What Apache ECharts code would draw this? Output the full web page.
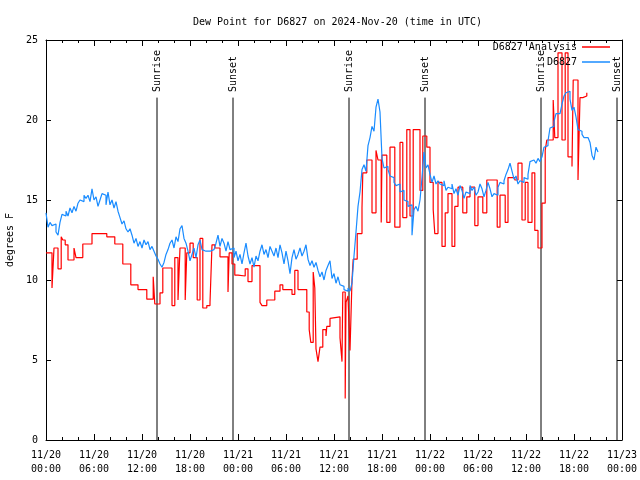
<!DOCTYPE html>
<html>
<head>
<meta charset="utf-8">
<script src="https://cdn.jsdelivr.net/npm/echarts@6/dist/echarts.min.js"></script>
<style>html,body{margin:0;padding:0;background:#fff;}#c{width:640px;height:480px;}</style>
</head>
<body>
<div id="c"></div>
<script>
// ---- data ----
var titleText = 'Dew Point for D6827 on 2024-Nov-20 (time in UTC)';
var seriesNames = ['D6827 Analysis', 'D6827'];
// Analysis (hours since 2024-11-20 00:00 UTC, value held until next time)
var analysisHours = [0.0,0.75,1.0,1.5,1.9,2.1,2.4,2.75,3.5,3.75,4.6,5.75,7.6,8.6,9.6,10.6,11.5,12.6,13.4,13.6,14.25,14.6,15.75,16.1,16.5,16.75,17.4,17.6,18.0,18.4,18.9,19.25,19.6,20.1,20.5,20.75,21.1,21.75,22.75,22.9,23.25,23.6,24.0,24.9,25.25,25.75,26.75,27.0,27.6,28.6,29.25,29.6,30.75,31.1,31.5,32.6,32.9,33.1,33.4,33.6,33.75,34.0,34.25,34.6,35.0,35.1,35.5,35.75,36.75,37.0,37.1,37.4,37.5,37.75,38.0,38.25,38.4,38.9,39.5,39.6,40.1,40.75,41.25,41.5,41.9,42.0,42.6,43.0,43.6,44.25,44.6,45.1,45.5,45.9,46.75,47.1,47.6,48.0,48.4,48.6,49.0,49.5,49.9,50.25,50.75,51.1,51.5,52.1,52.6,53.0,53.6,54.0,54.6,55.1,56.4,56.75,57.4,57.75,58.6,59.0,59.5,59.9,60.25,60.75,61.1,61.5,62.0,62.4,62.6,63.4,63.6,64.0,64.5,64.9,65.25,65.75,65.9,66.5,66.75,67.1,67.6];
var analysisValues = [11.7,9.5,12.0,10.7,12.7,12.5,12.2,11.25,12.0,11.4,12.25,12.9,12.7,12.25,11.0,9.7,9.4,8.8,10.2,8.5,9.2,10.75,8.4,11.4,8.75,12.0,8.75,11.7,12.3,11.4,8.75,12.6,8.25,8.4,8.6,12.2,12.0,11.45,9.25,11.7,11.0,10.3,10.25,10.7,9.9,10.9,8.6,8.4,8.75,9.3,9.7,9.4,9.1,10.6,9.4,8.0,6.9,6.1,10.5,9.5,5.7,4.9,5.8,6.9,6.5,7.1,7.6,7.7,6.4,4.9,9.25,2.6,8.6,9.0,5.6,10.0,11.3,12.9,14.5,16.7,17.5,14.2,18.1,17.5,13.6,17.8,13.6,18.3,13.3,18.6,13.9,19.4,14.0,19.4,15.6,19.0,18.3,16.1,14.4,12.9,16.1,12.1,14.2,15.4,12.1,14.6,15.8,14.2,15.2,15.8,13.4,15.2,14.2,16.25,13.3,15.3,13.6,16.4,16.25,17.3,13.75,16.1,13.6,16.7,13.1,12.0,14.8,18.1,18.75,21.25,18.9,24.2,18.75,24.2,17.7,17.1,22.5,16.25,21.4,21.5,21.7];
// Observations: one reading every 15 minutes from 00:00
var obsStartHour = 0;
var obsStepMinutes = 15;
var obsValues = [
14.2,13.3,13.6,13.4,13.5,13.0,12.8,13.6,14.1,14.0,
14.3,14.0,14.5,14.2,14.6,14.3,14.8,15.0,14.9,15.3,
15.1,15.3,14.9,15.7,15.0,15.2,14.6,15.0,15.4,15.3,
14.7,15.5,14.7,15.0,14.5,14.9,14.3,13.9,13.5,13.7,
13.2,13.0,13.2,12.8,12.3,12.6,12.1,12.4,12.0,12.5,
12.2,12.4,11.9,12.1,11.8,11.5,11.3,11.0,10.8,11.1,
11.6,11.9,12.3,12.5,12.0,12.7,12.4,13.2,13.4,12.6,
12.3,11.8,11.2,11.6,12.0,11.4,12.2,12.5,11.9,11.8,
11.75,11.8,11.7,11.9,11.8,12.3,12.8,12.1,12.6,12.3,
11.8,12.4,11.9,12.0,11.4,11.8,11.2,11.6,11.0,11.7,
12.3,11.5,11.0,11.4,10.8,11.5,11.2,11.8,12.2,11.6,
11.9,11.4,12.1,11.8,11.5,12.0,11.4,12.2,11.7,11.0,
11.8,11.2,10.4,11.4,11.9,11.3,11.6,12.0,11.5,11.8,
12.2,11.3,10.9,11.2,10.8,11.1,10.6,10.2,10.5,10.0,
10.6,10.9,11.2,10.1,10.4,9.8,10.2,9.7,9.6,9.4,
9.3,9.5,9.3,9.8,11.5,13.0,14.6,15.5,16.9,17.2,
16.8,18.4,18.9,19.6,19.3,20.8,21.3,20.5,17.6,17.0,
17.1,16.9,16.5,16.4,16.1,15.9,16.0,15.5,15.6,15.0,
14.9,14.6,14.7,12.8,14.4,14.6,14.3,15.0,16.4,18.0,
17.0,17.2,16.6,16.1,16.5,16.0,16.2,16.0,15.9,16.2,
15.6,15.8,15.7,16.0,15.4,15.7,15.3,15.9,15.6,15.1,
15.5,15.4,15.9,15.6,15.8,15.3,15.5,16.0,15.7,15.2,
15.6,16.1,15.7,15.2,15.4,15.3,15.8,16.1,16.0,16.2,
16.6,16.9,17.3,16.8,16.3,16.5,16.0,16.2,16.1,16.4,
16.3,16.6,17.4,17.5,17.5,17.3,17.6,17.4,17.7,18.3,
18.4,18.7,19.5,19.6,19.9,20.4,20.4,20.5,21.0,21.5,
21.7,21.8,21.3,20.6,20.8,20.2,19.4,19.3,19.1,18.9,
18.9,18.8,18.6,17.8,17.5,18.3,18.0];
var sunHours = [13.875, 23.375, 37.875, 47.375, 61.875, 71.375];
var sunLabels = ['Sunrise', 'Sunset', 'Sunrise', 'Sunset', 'Sunrise', 'Sunset'];
var sunLineTop = 21.4;
var sunTextBottom = 21.75;
var yTicks = [0, 5, 10, 15, 20, 25];
var startDay = { month: 11, day: 20 };

// ---- build ----
var FONT = 'DejaVu Sans Mono';
var analysisData = analysisHours.map(function (h, i) { return [h, analysisValues[i]]; });
var obsData = obsValues.map(function (v, i) { return [obsStartHour + i * obsStepMinutes / 60, v]; });
var sunData = sunHours.map(function (h) { return [h, 0]; });

function fmtX(h) {
  var d = startDay.day + Math.floor(h / 24);
  var hh = Math.round(h % 24);
  return startDay.month + '/' + d + '\n' + (hh < 10 ? '0' : '') + hh + ':00';
}

var chart = echarts.init(document.getElementById('c'));
var axisLineStyle = { color: '#000', width: 1 };
chart.setOption({
  animation: false,
  backgroundColor: '#fff',
  title: {
    text: titleText, left: 188, top: 12,
    textStyle: { fontFamily: FONT, fontSize: 10, fontWeight: 'normal', color: '#000' }
  },
  grid: { left: 46, right: 18, top: 40, bottom: 40, containLabel: false, outerBoundsMode: 'none' },
  legend: [
    { data: [seriesNames[0]], right: 30, top: 42, padding: 0, align: 'right', icon: 'rect',
      itemWidth: 28, itemHeight: 1.5, textStyle: { fontFamily: FONT, fontSize: 10, color: '#000' } },
    { data: [seriesNames[1]], right: 30, top: 57, padding: 0, align: 'right', icon: 'rect',
      itemWidth: 28, itemHeight: 1.5, textStyle: { fontFamily: FONT, fontSize: 10, color: '#000' } }
  ],
  xAxis: [
    { type: 'value', min: 0, max: 72, interval: 6, position: 'bottom',
      axisLine: { show: true, onZero: false, lineStyle: axisLineStyle },
      axisTick: { show: true, inside: true, length: 6, lineStyle: axisLineStyle },
      minorTick: { show: true, splitNumber: 3, length: 3, lineStyle: axisLineStyle },
      splitLine: { show: false },
      axisLabel: { formatter: fmtX, fontFamily: FONT, fontSize: 10, color: '#000', lineHeight: 14, margin: 8 } },
    { type: 'value', min: 0, max: 72, interval: 6, position: 'top',
      axisLine: { show: true, onZero: false, lineStyle: axisLineStyle },
      axisTick: { show: true, inside: true, length: 6, lineStyle: axisLineStyle },
      minorTick: { show: true, splitNumber: 3, length: 3, lineStyle: axisLineStyle },
      splitLine: { show: false }, axisLabel: { show: false } }
  ],
  yAxis: [
    { type: 'value', min: 0, max: 25, interval: 5, position: 'left',
      name: 'degrees F', nameLocation: 'middle', nameGap: 30, nameRotate: 90,
      nameTextStyle: { fontFamily: FONT, fontSize: 10, color: '#000' },
      axisLine: { show: true, onZero: false, lineStyle: axisLineStyle },
      axisTick: { show: true, inside: true, length: 5, lineStyle: axisLineStyle },
      splitLine: { show: false },
      axisLabel: { fontFamily: FONT, fontSize: 10, color: '#000', margin: 8,
        formatter: function (v) { return yTicks.indexOf(v) >= 0 ? String(v) : ''; } } },
    { type: 'value', min: 0, max: 25, interval: 5, position: 'right',
      axisLine: { show: true, onZero: false, lineStyle: axisLineStyle },
      axisTick: { show: true, inside: true, length: 5, lineStyle: axisLineStyle },
      splitLine: { show: false }, axisLabel: { show: false } }
  ],
  series: [
    { type: 'custom', name: 'sun', silent: true, z: 1,
      encode: { x: 0, y: 1 },
      data: sunData,
      renderItem: function (params, api) {
        var h = api.value(0);
        var p0 = api.coord([h, 0]);
        var p1 = api.coord([h, sunLineTop]);
        var pt = api.coord([h, sunTextBottom]);
        return {
          type: 'group',
          children: [
            { type: 'line', shape: { x1: p0[0], y1: p0[1], x2: p1[0], y2: p1[1] },
              style: { stroke: '#000', lineWidth: 1 } },
            { type: 'text', x: pt[0], y: pt[1], rotation: Math.PI / 2,
              style: { text: sunLabels[params.dataIndex], x: 0, y: 0, align: 'left', verticalAlign: 'middle',
                font: '10px "' + FONT + '"', fill: '#000' } }
          ]
        };
      }
    },
    { type: 'line', name: seriesNames[0], data: analysisData, step: 'end', showSymbol: false, z: 2,
      color: '#ff0000', lineStyle: { color: '#ff0000', width: 1.2 } },
    { type: 'line', name: seriesNames[1], data: obsData, step: 'end', showSymbol: false, z: 3,
      color: '#1a8cff', lineStyle: { color: '#1a8cff', width: 1.2 } }
  ]
});
</script>
</body>
</html>
